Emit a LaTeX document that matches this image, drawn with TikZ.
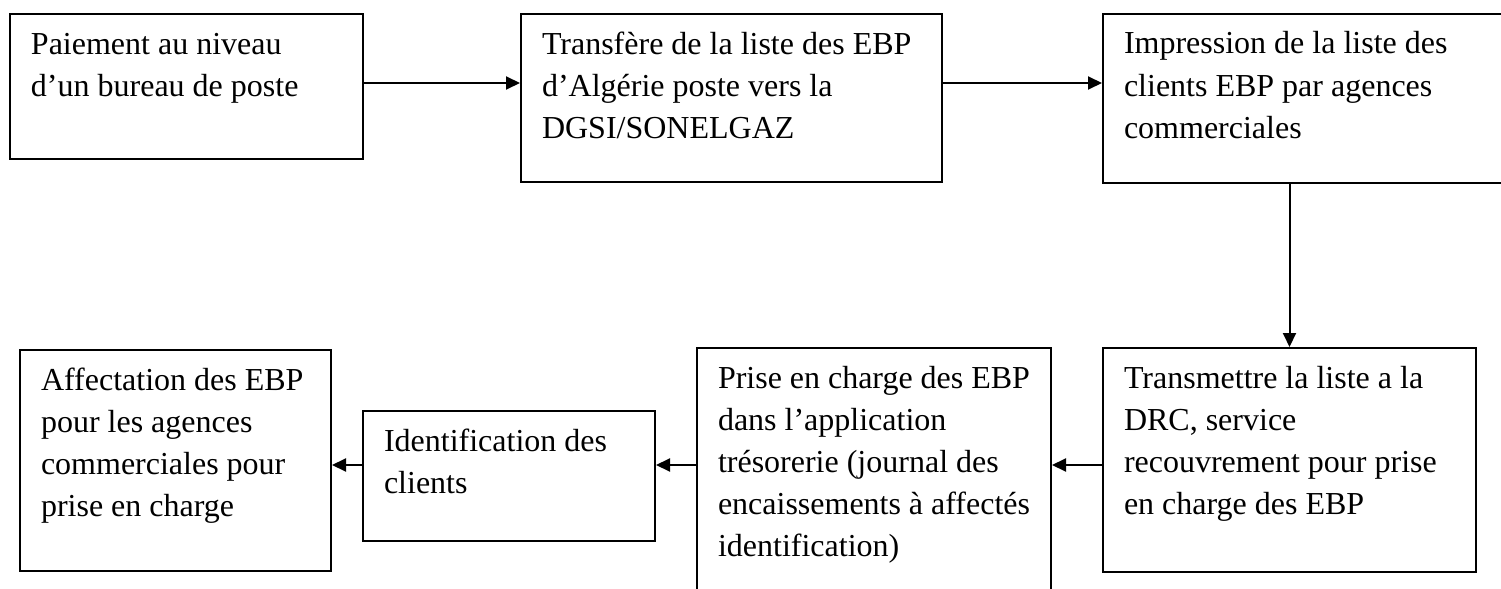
\documentclass[tikz,border=0pt]{standalone}
\usepackage{fontspec}
\setmainfont{Liberation Serif}
\usetikzlibrary{arrows.meta}

% one drawing unit = 0.5pt
\newdimen\pxu \pxu=0.5pt

\tikzset{
  stepbox/.style={draw, line width=1pt, anchor=north west, inner xsep=10.5pt, inner ysep=0pt},
  flow/.style={line width=1pt, -{Triangle[length=7pt,width=6.5pt]}},
}

% name, left, top, width, height, text
\newcommand\flowbox[6]{%
  \node[stepbox] (#1) at (#2,#3)
    {\parbox[c][#5\pxu][t]{\dimexpr#4\pxu-21pt\relax}{%
      \fontsize{16pt}{21pt}\selectfont\rule{0pt}{20pt}#6}};}

\begin{document}
\begin{tikzpicture}[x=0.5pt, y=-0.5pt]
  \clip (0,0) rectangle (1501,589);
  \fill[white] (0,0) rectangle (1501,589);

  % upper row
  \flowbox{b1}{9}{13}{353}{145}{Paiement au niveau\\d’un bureau de poste}
  \flowbox{b2}{520}{13}{421}{168}{Transfère de la liste des EBP\\d’Algérie poste vers la\\DGSI/SONELGAZ}
  \flowbox{b3}{1102}{13}{420}{169}{Impression de la liste des\\clients EBP par agences\\commerciales}

  % lower row
  \flowbox{b4}{1102}{347}{373}{224}{Transmettre la liste a la\\DRC, service\\recouvrement pour prise\\en charge des EBP}
  \flowbox{b5}{696}{347}{354}{260}{Prise en charge des EBP\\dans l’application\\trésorerie (journal des\\encaissements à affectés\\identification)}
  \flowbox{b6}{362}{410}{292}{130}{Identification des\\clients}
  \flowbox{b7}{19}{349}{311}{221}{Affectation des EBP\\pour les agences\\commerciales pour\\prise en charge}

  % connector levels
  \coordinate (rowa) at (0,83);
  \coordinate (rowb) at (0,465);

  \draw[flow] (b1.east |- rowa) -- (b2.west |- rowa);
  \draw[flow] (b2.east |- rowa) -- (b3.west |- rowa);
  \draw[flow] (b4.north |- b3.south) -- (b4.north);
  \draw[flow] (b4.west |- rowb) -- (b5.east |- rowb);
  \draw[flow] (b5.west |- rowb) -- (b6.east |- rowb);
  \draw[flow] (b6.west |- rowb) -- (b7.east |- rowb);
\end{tikzpicture}
\end{document}
